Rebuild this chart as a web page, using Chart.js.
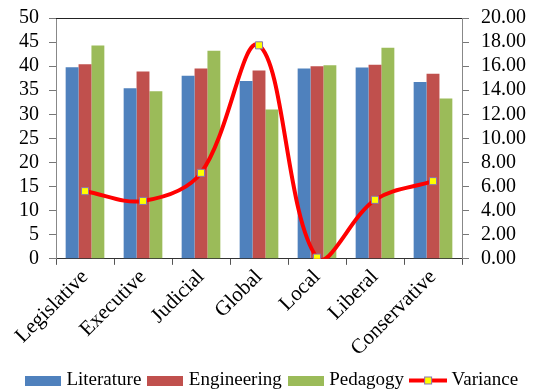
<!DOCTYPE html>
<html>
<head>
<meta charset="utf-8">
<script src="https://cdn.jsdelivr.net/npm/chart.js@4"></script>
<style>
  html, body { margin: 0; padding: 0; background: #fff; }
  #wrap { width: 539px; height: 392px; }
</style>
</head>
<body>
<div id="wrap"><canvas id="c" width="539" height="392"></canvas></div>
<script>
const categories = ['Legislative', 'Executive', 'Judicial', 'Global', 'Local', 'Liberal', 'Conservative'];
const literature = [39.8, 35.4, 38.0, 36.9, 39.5, 39.7, 36.7];
const engineering = [40.4, 38.9, 39.5, 39.1, 40.0, 40.3, 38.4];
const pedagogy = [44.3, 34.8, 43.2, 31.0, 40.2, 43.8, 33.3];
const variance = [5.62, 4.81, 7.14, 17.73, 0.10, 4.90, 6.45];

const seriesNames = ['Literature', 'Engineering', 'Pedagogy', 'Variance'];
const colors = ['#4F81BD', '#C0504D', '#9BBB59'];
const lineColor = '#FF0000';
const markerFill = '#FFFF00';
const markerEdge = '#8672B0';

const serif = "'Liberation Serif', 'Times New Roman', serif";

// Small swatches used as legend symbols
function barSwatch(color) {
  const cv = document.createElement('canvas');
  cv.width = 36; cv.height = 10;
  const g = cv.getContext('2d');
  g.fillStyle = color;
  g.fillRect(0, 0, 36, 10);
  return cv;
}
function lineSwatch() {
  const cv = document.createElement('canvas');
  cv.width = 38; cv.height = 10;
  const g = cv.getContext('2d');
  g.strokeStyle = lineColor;
  g.lineWidth = 4;
  g.beginPath(); g.moveTo(0, 5); g.lineTo(38, 5); g.stroke();
  g.fillStyle = markerFill;
  g.strokeStyle = markerEdge;
  g.lineWidth = 1;
  g.fillRect(15.5, 1.5, 7, 7);
  g.strokeRect(15.5, 1.5, 7, 7);
  return cv;
}
const swatches = [barSwatch(colors[0]), barSwatch(colors[1]), barSwatch(colors[2]), lineSwatch()];

// Frame line along the top of the plot area
const topBorder = {
  id: 'topBorder',
  afterDatasetsDraw(chart) {
    const a = chart.chartArea, ctx = chart.ctx;
    ctx.save();
    ctx.strokeStyle = '#222';
    ctx.lineWidth = 1;
    ctx.beginPath();
    ctx.moveTo(a.left, Math.round(a.top) + 0.5);
    ctx.lineTo(a.right, Math.round(a.top) + 0.5);
    ctx.stroke();
    ctx.restore();
  }
};

const barSets = [literature, engineering, pedagogy].map((vals, i) => ({
  type: 'bar',
  label: seriesNames[i],
  data: vals,
  backgroundColor: colors[i],
  borderWidth: 0,
  barPercentage: 1.0,
  categoryPercentage: 0.667,
  yAxisID: 'y',
  order: 1
}));

new Chart(document.getElementById('c'), {
  data: {
    labels: categories,
    datasets: [
      ...barSets,
      {
        type: 'line',
        label: seriesNames[3],
        data: variance,
        yAxisID: 'y1',
        borderColor: lineColor,
        borderWidth: 4,
        tension: 0.36,
        capBezierPoints: false,
        pointStyle: 'rect',
        pointRadius: 5,
        pointBackgroundColor: markerFill,
        pointBorderColor: markerEdge,
        pointBorderWidth: 1,
        order: 0
      }
    ]
  },
  options: {
    responsive: false,
    animation: false,
    devicePixelRatio: 1,
    layout: { padding: { left: 9, right: 1, top: 0, bottom: -8 } },
    plugins: {
      tooltip: { enabled: false },
      legend: {
        position: 'bottom',
        labels: {
          font: { family: serif, size: 19 },
          color: '#000',
          usePointStyle: true,
          pointStyleWidth: 28,
          boxHeight: 10,
          padding: 10,
          generateLabels(chart) {
            const items = Chart.defaults.plugins.legend.labels.generateLabels(chart);
            items.sort((a, b) => a.datasetIndex - b.datasetIndex);
            items.forEach(it => { it.pointStyle = swatches[it.datasetIndex]; });
            return items;
          }
        }
      }
    },
    scales: {
      x: {
        offset: true,
        grid: { offset: true, drawOnChartArea: false, drawTicks: true, tickLength: 6, color: '#555' },
        border: { color: '#333', width: 1 },
        ticks: {
          autoSkip: false,
          font: { family: serif, size: 21 },
          color: '#000',
          minRotation: 45,
          maxRotation: 45,
          padding: 0
        }
      },
      y: {
        position: 'left',
        min: 0,
        max: 50,
        grid: { drawOnChartArea: false, drawTicks: true, tickLength: 7, color: '#777' },
        border: { color: '#888', width: 1 },
        ticks: {
          autoSkip: false,
          stepSize: 5,
          font: { family: serif, size: 20, lineHeight: 0.6 },
          color: '#000',
          padding: 10
        }
      },
      y1: {
        position: 'right',
        min: 0,
        max: 20,
        grid: { drawOnChartArea: false, drawTicks: true, tickLength: 7, color: '#777' },
        border: { color: '#888', width: 1 },
        ticks: {
          autoSkip: false,
          stepSize: 2,
          font: { family: serif, size: 20, lineHeight: 0.6 },
          color: '#000',
          padding: 12,
          callback: v => Number(v).toFixed(2)
        }
      }
    }
  },
  plugins: [topBorder]
});
</script>
</body>
</html>
